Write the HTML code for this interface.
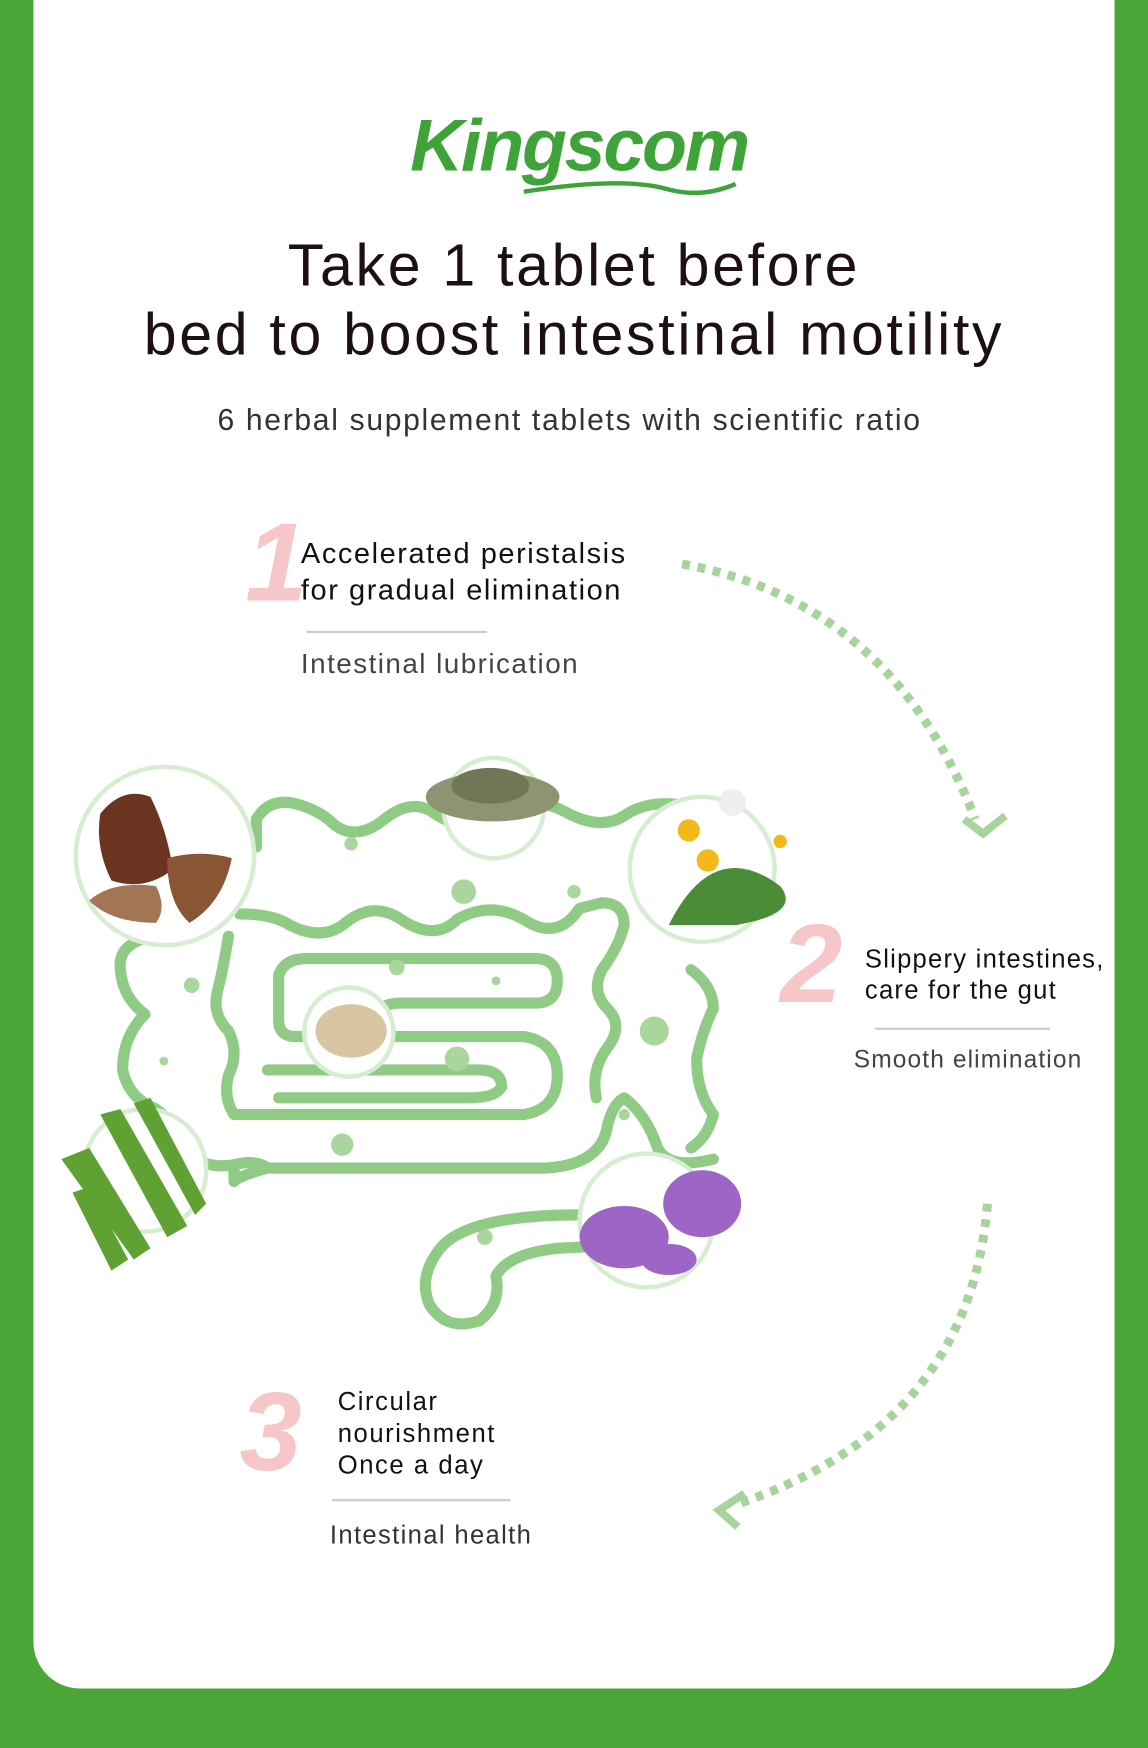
<!DOCTYPE html>
<html><head><meta charset="utf-8"><style>
html,body{margin:0;padding:0;width:1148px;height:1747px;overflow:hidden;background:#4aa637;}
#w{position:absolute;left:0;top:0;width:1030px;height:1568px;transform:scale(1.11456);transform-origin:0 0;font-family:"Liberation Sans",sans-serif;}
.card{position:absolute;left:30px;top:-40px;width:970px;height:1555px;background:#fff;border-radius:42px;}
.t{position:absolute;white-space:nowrap;}
.num{position:absolute;font-style:italic;color:#f6c6c8;font-weight:bold;font-family:"Liberation Sans",sans-serif;}
.ln{position:absolute;height:2px;background:#ccc;}
</style></head><body><div id="w">
<div class="card"></div>
<div class="t" style="left:368px;top:92px;font-size:66px;font-style:italic;font-weight:bold;color:#3fa33a;letter-spacing:-2px;font-family:'Liberation Sans',sans-serif;">Kingscom</div>
<svg style="position:absolute;left:0;top:0" width="1030" height="1568">
<path d="M470 172 Q560 158 600 170 Q630 178 660 165" stroke="#3fa33a" stroke-width="4" fill="none"/>
</svg>
<div class="t" style="left:0;width:1030px;text-align:center;top:208px;font-size:53px;color:#1c1016;line-height:62px;letter-spacing:2.4px;">Take 1 tablet before<br>bed to boost intestinal motility</div>
<div class="t" style="left:0;width:1022px;text-align:center;top:362px;font-size:27px;color:#333;letter-spacing:1.5px;">6 herbal supplement tablets with scientific ratio</div>

<div class="num" style="left:220px;top:448px;font-size:100px;">1</div>
<div class="t" style="left:270px;top:480px;font-size:26px;color:#111;line-height:33px;letter-spacing:1.4px;">Accelerated peristalsis<br>for gradual elimination</div>
<div class="ln" style="left:275px;top:566px;width:162px;"></div>
<div class="t" style="left:270px;top:582px;font-size:25px;color:#444;letter-spacing:1.3px;">Intestinal lubrication</div>

<div class="num" style="left:700px;top:808px;font-size:100px;">2</div>
<div class="t" style="left:776px;top:846px;font-size:23px;color:#111;line-height:28px;letter-spacing:1.1px;">Slippery intestines,<br>care for the gut</div>
<div class="ln" style="left:785px;top:922px;width:157px;"></div>
<div class="t" style="left:766px;top:938px;font-size:22px;color:#444;letter-spacing:1px;">Smooth elimination</div>

<div class="num" style="left:215px;top:1228px;font-size:100px;">3</div>
<div class="t" style="left:303px;top:1243px;font-size:23px;color:#111;line-height:28.5px;letter-spacing:1.4px;">Circular<br>nourishment<br>Once a day</div>
<div class="ln" style="left:298px;top:1345px;width:160px;"></div>
<div class="t" style="left:296px;top:1364px;font-size:23px;color:#333;letter-spacing:1.2px;">Intestinal health</div>

<svg style="position:absolute;left:0;top:0" width="1030" height="1568">
<g fill="none" stroke="#a7d39c" stroke-width="8" stroke-dasharray="7 7">
<path d="M612 506 Q800 540 875 735"/>
<path d="M886 1080 Q870 1280 660 1350"/>
</g>
<g fill="none" stroke="#a7d39c" stroke-width="7">
<path d="M865 735 L882 748 L902 732"/>
<path d="M668 1340 L645 1355 L662 1370"/>
</g>
<g fill="none" stroke="#8fcb84" stroke-width="10" stroke-linecap="round" stroke-linejoin="round">
<path d="M230 760 L230 735 Q240 718 260 720 Q285 725 300 740 Q320 755 345 735 Q370 715 390 730 Q420 750 450 730 Q480 712 510 730 Q540 745 560 732 Q580 718 610 722"/>
<path d="M140 840 Q105 845 108 870 Q110 895 130 910 Q110 930 110 960 Q115 985 140 995 Q160 1010 165 1030 Q180 1050 210 1045 L210 1060 Q215 1055 240 1048 L490 1048 Q540 1045 545 1010 Q550 990 560 985 Q580 1000 590 1030 Q600 1050 640 1040"/>
<path d="M210 1045 Q230 1040 240 1048"/>
<path d="M215 820 Q245 820 260 830 Q290 845 310 828 Q335 808 360 825 Q390 845 410 825 Q440 808 470 825 Q500 845 520 815 L540 810 Q560 810 560 830 Q555 850 540 870 Q530 890 545 905 Q560 920 545 940 Q530 960 535 985"/>
<path d="M205 840 Q200 870 195 890 Q190 910 205 925 Q215 945 205 965 Q200 985 210 1000 L470 1000 Q500 995 500 965 Q500 935 470 930 L265 930 Q250 930 250 915 L250 875 Q255 860 275 860 L480 860 Q500 860 500 880 Q500 900 480 900 L360 900 Q330 900 330 930"/>
<path d="M240 960 L430 960 Q450 960 450 975 Q445 985 420 985 L250 985"/>
<path d="M620 870 Q640 885 640 905 Q630 925 625 950 Q625 980 640 1000 Q635 1020 620 1030"/>
<path d="M520 1090 Q420 1090 395 1120 Q375 1145 385 1170 Q400 1195 430 1185 Q450 1170 445 1145 Q455 1125 500 1120 L540 1118"/>
</g>
<g fill="#a8d69d">
<circle cx="315" cy="757" r="6"/><circle cx="416" cy="800" r="11"/><circle cx="515" cy="800" r="6"/>
<circle cx="172" cy="884" r="7"/><circle cx="356" cy="868" r="7"/><circle cx="445" cy="880" r="4"/>
<circle cx="410" cy="950" r="11"/><circle cx="587" cy="925" r="13"/><circle cx="147" cy="952" r="4"/>
<circle cx="307" cy="1027" r="10"/><circle cx="560" cy="1000" r="5"/><circle cx="435" cy="1110" r="7"/>
</g>
<g fill="#fff" stroke="#d6edd2" stroke-width="4">
<circle cx="148" cy="768" r="80"/><circle cx="443" cy="725" r="45"/><circle cx="630" cy="780" r="65"/>
<circle cx="313" cy="926" r="40"/><circle cx="130" cy="1050" r="55"/><circle cx="580" cy="1095" r="60"/>
</g>
<g>
<path d="M90 730 Q110 705 135 715 Q150 745 155 780 Q130 800 100 790 Q85 760 90 730Z" fill="#6b3420"/>
<path d="M150 770 Q180 762 208 770 Q200 810 170 828 Q150 810 150 770Z" fill="#8a5534"/>
<path d="M80 808 Q100 790 140 795 Q150 815 140 828 Q100 828 80 808Z" fill="#a27655"/>
<ellipse cx="442" cy="715" rx="60" ry="22" fill="#8d9471"/>
<ellipse cx="440" cy="705" rx="35" ry="16" fill="#6f7757"/>
<path d="M600 830 Q640 750 700 795 Q720 820 660 830Z" fill="#4b8c36"/>
<circle cx="618" cy="745" r="10" fill="#f4b71c"/><circle cx="635" cy="772" r="10" fill="#f4b71c"/><circle cx="700" cy="755" r="6" fill="#f4b71c"/>
<circle cx="657" cy="720" r="12" fill="#eee"/>
<ellipse cx="315" cy="925" rx="32" ry="24" fill="#d9c5a2"/>
<g fill="#5fa133"><path d="M55 1040 L120 1130 L135 1120 L80 1030Z"/><path d="M90 1000 L150 1110 L168 1100 L108 995Z"/><path d="M120 990 L175 1090 L185 1080 L135 985Z"/><path d="M65 1070 L100 1140 L115 1130 L80 1065Z"/></g>
<g fill="#9d66c6"><ellipse cx="560" cy="1110" rx="40" ry="28"/><ellipse cx="630" cy="1080" rx="35" ry="30"/><ellipse cx="600" cy="1130" rx="25" ry="14"/></g>
</g>
</svg>
</div></body></html>
